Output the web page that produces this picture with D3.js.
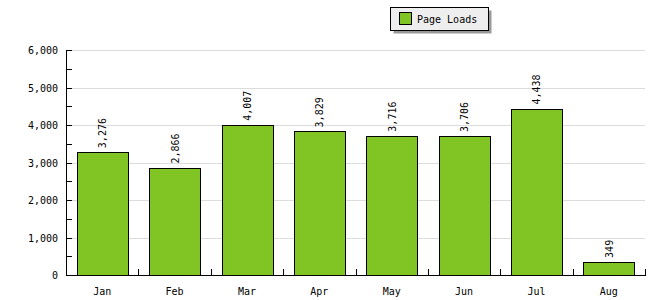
<!DOCTYPE html>
<html lang="en">
<head>
<meta charset="UTF-8" />
<title>Page Loads</title>
<style>
  body { margin: 0; background: #fff; }
  text { font-family: "DejaVu Sans Mono", monospace; font-size: 10px; fill: #000; }
</style>
</head>
<body>
<script src="https://d3js.org/d3.v7.min.js"></script>
<script>
var months = ["Jan", "Feb", "Mar", "Apr", "May", "Jun", "Jul", "Aug"];
var pageLoads = [3276, 2866, 4007, 3829, 3716, 3706, 4438, 349];
var yTicks = [0, 1000, 2000, 3000, 4000, 5000, 6000];
var seriesName = "Page Loads";

var width = 650, height = 300;
var plotLeft = 66, plotRight = 645, plotTop = 50, plotBottom = 275;
var barColor = "#80c523";

var svg = d3.select("body").append("svg")
  .attr("width", width)
  .attr("height", height);

var x = d3.scaleBand().domain(months).range([plotLeft, plotRight]).padding(0);
var y = d3.scaleLinear().domain([0, 6000]).range([plotBottom, plotTop]);
var fmt = d3.format(",");

// gridlines
svg.append("g").selectAll("line")
  .data(yTicks.filter(function(d){ return d > 0; }))
  .enter().append("line")
  .attr("x1", plotLeft).attr("x2", plotRight)
  .attr("y1", function(d){ return Math.round(y(d)) + 0.5; })
  .attr("y2", function(d){ return Math.round(y(d)) + 0.5; })
  .attr("stroke", "#dcdcdc");

// bars
var barW = x.bandwidth() * 0.7;
svg.append("g").selectAll("rect")
  .data(pageLoads)
  .enter().append("rect")
  .attr("x", function(d, i){ return Math.round(x(months[i]) + (x.bandwidth() - barW) / 2) + 0.5; })
  .attr("y", function(d){ return Math.round(y(d)) + 0.5; })
  .attr("width", Math.round(barW))
  .attr("height", function(d){ return Math.round(y(0)) - Math.round(y(d)); })
  .attr("fill", barColor)
  .attr("stroke", "#000");

// value labels
svg.append("g").selectAll("text")
  .data(pageLoads)
  .enter().append("text")
  .attr("transform", function(d, i){
    var cx = x(months[i]) + x.bandwidth() / 2 + 4;
    return "translate(" + cx + "," + (y(d) - 4) + ") rotate(-90)";
  })
  .text(function(d){ return fmt(d); });

// y axis
var ya = svg.append("g");
ya.append("line")
  .attr("x1", plotLeft + 0.5).attr("x2", plotLeft + 0.5)
  .attr("y1", plotTop).attr("y2", plotBottom + 1)
  .attr("stroke", "#000");
ya.selectAll("line.tick")
  .data(d3.range(0, 6001, 500))
  .enter().append("line")
  .attr("class", "tick")
  .attr("x1", plotLeft).attr("x2", plotLeft + 6)
  .attr("y1", function(d){ return Math.round(y(d)) + 0.5; })
  .attr("y2", function(d){ return Math.round(y(d)) + 0.5; })
  .attr("stroke", "#000");
ya.selectAll("text")
  .data(yTicks)
  .enter().append("text")
  .attr("x", plotLeft - 8)
  .attr("y", function(d){ return y(d) + 4; })
  .attr("text-anchor", "end")
  .text(function(d){ return fmt(d); });

// x axis
var xa = svg.append("g");
xa.append("line")
  .attr("x1", plotLeft).attr("x2", plotRight + 1)
  .attr("y1", plotBottom + 0.5).attr("y2", plotBottom + 0.5)
  .attr("stroke", "#000");
xa.selectAll("line.tick")
  .data(months.slice(1).concat(["end"]))
  .enter().append("line")
  .attr("class", "tick")
  .attr("x1", function(d, i){ return Math.round(i < months.length - 1 ? x(d) : plotRight) + 0.5; })
  .attr("x2", function(d, i){ return Math.round(i < months.length - 1 ? x(d) : plotRight) + 0.5; })
  .attr("y1", plotBottom - 6).attr("y2", plotBottom)
  .attr("stroke", "#000");
xa.selectAll("text")
  .data(months)
  .enter().append("text")
  .attr("x", function(d){ return x(d) + x.bandwidth() / 2; })
  .attr("y", plotBottom + 20)
  .attr("text-anchor", "middle")
  .text(function(d){ return d; });

// legend
var lg = svg.append("g").attr("transform", "translate(390,7)");
lg.append("rect").attr("x", 3.5).attr("y", 3.5).attr("width", 98).attr("height", 23).attr("fill", "#999");
lg.append("rect").attr("x", 0.5).attr("y", 0.5).attr("width", 98).attr("height", 23)
  .attr("fill", "#eee").attr("stroke", "#000");
lg.append("rect").attr("x", 9.5).attr("y", 5.5).attr("width", 12).attr("height", 12)
  .attr("fill", barColor).attr("stroke", "#000");
lg.append("text").attr("x", 27).attr("y", 16).text(seriesName);
</script>
</body>
</html>
